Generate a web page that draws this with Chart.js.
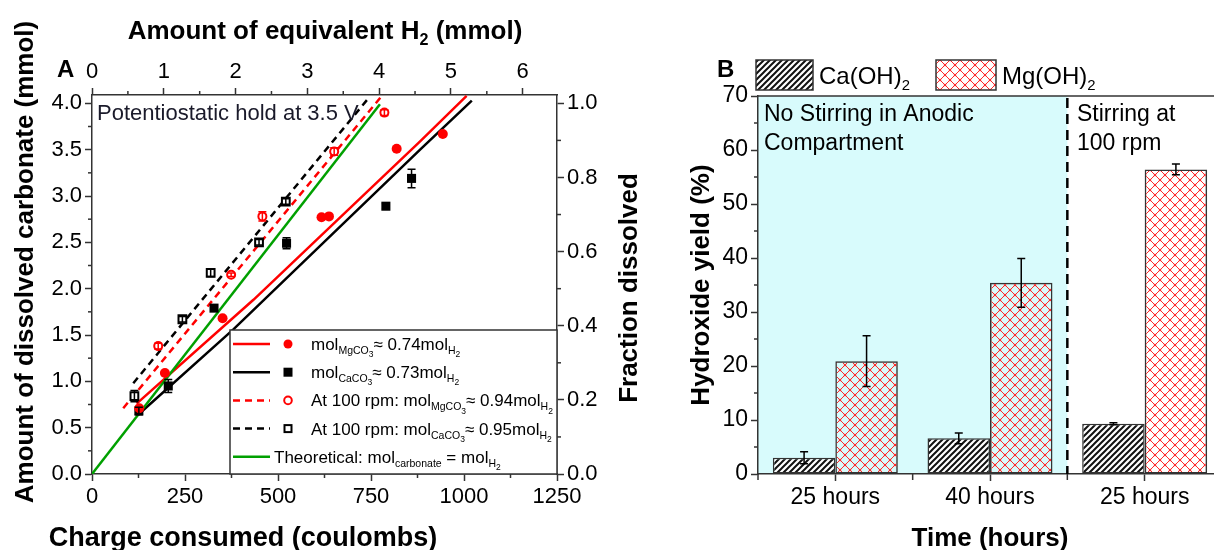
<!DOCTYPE html>
<html>
<head>
<meta charset="utf-8">
<script src="https://cdn.jsdelivr.net/npm/chart.js@4.4.1/dist/chart.umd.min.js"></script>
<style>
  html, body { margin: 0; padding: 0; background: #fff; overflow: hidden; width: 1214px; height: 550px; }
  #wrapA { position: absolute; left: 0; top: 0; width: 650px; height: 550px; }
  #wrapB { position: absolute; left: 680px; top: 0; width: 560px; height: 550px; }
</style>
</head>
<body>
<div id="wrapA"><canvas id="chartA" width="650" height="550"></canvas></div>
<div id="wrapB"><canvas id="chartB" width="560" height="550"></canvas></div>
<script>
// ---- panel A: charge (C) vs dissolved carbonate (mmol)
const mgC = [127, 196, 351, 617, 637, 819, 943];
const mgN = [0.71, 1.09, 1.68, 2.77, 2.78, 3.51, 3.67];
const mgErr = [0, 0, 0, 0, 0, 0, 0];
const caC = [126, 205, 328, 523, 790, 859];
const caN = [0.68, 0.95, 1.79, 2.49, 2.89, 3.19];
const caErr = [0.04, 0.07, 0.03, 0.06, 0.03, 0.10];
const mgRpmC = [178, 374, 458, 651, 786];
const mgRpmN = [1.38, 2.15, 2.78, 3.48, 3.90];
const mgRpmErr = [0.03, 0.02, 0.05, 0.04, 0.03];
const caRpmC = [114, 243, 319, 449, 521];
const caRpmN = [0.84, 1.67, 2.17, 2.50, 2.94];
const caRpmErr = [0.06, 0.03, 0.04, 0.03, 0.03];

const mgFitC = [120, 434, 882, 1007];
const mgFitN = [0.76, 1.88, 3.59, 4.08];
const caFitC = [124, 380, 882, 1021];
const caFitN = [0.64, 1.56, 3.50, 4.03];
const mgRpmFitC = [84, 775];
const mgRpmFitN = [0.71, 4.06];
const caRpmFitC = [111, 740];
const caRpmFitN = [0.98, 4.04];
const theoC = [0, 774];
const theoN = [0, 3.99];

const chargeTicks = [0, 250, 500, 750, 1000, 1250];
const h2Ticks = [0, 1, 2, 3, 4, 5, 6];
const carbTicks = [0, 0.5, 1.0, 1.5, 2.0, 2.5, 3.0, 3.5, 4.0];
const fracTicks = [0, 0.2, 0.4, 0.6, 0.8, 1.0];
const coulombPerMmolH2 = 192.97;
const carbMax = 4.09;

// ---- panel B: hydroxide yield (%)
const timeLabels = ['25 hours', '40 hours', '25 hours'];
const caYield = [3.0, 6.6, 9.3];
const caYieldErr = [1.1, 1.0, 0.2];
const mgYield = [20.9, 35.4, 56.4];
const mgYieldErr = [4.7, 4.5, 1.0];
const yieldTicks = [0, 10, 20, 30, 40, 50, 60, 70];

const FONT = '"Liberation Sans", Arial, Helvetica, sans-serif';
Chart.defaults.font.family = FONT;
Chart.defaults.color = '#000';

const pts = (xs, ys) => xs.map((x, i) => ({x: x, y: ys[i]}));
const mids = arr => arr.slice(1).map((v, i) => (v + arr[i]) / 2);

// rich text with sub / sub-sub levels
const LV_SIZE = [1, 0.62, 0.5];
const LV_DROP = [0, 0.24, 0.42];
function setFont(ctx, size, lv, weight) {
    ctx.font = weight + ' ' + (size * LV_SIZE[lv]).toFixed(1) + 'px ' + FONT;
}
function richWidth(ctx, parts, size, weight) {
    let w = 0;
    parts.forEach(p => { setFont(ctx, size, p[1], weight); w += ctx.measureText(p[0]).width; });
    return w;
}
function drawRich(ctx, parts, x, y, size, weight, align) {
    let cx = align === 'center' ? x - richWidth(ctx, parts, size, weight) / 2 : x;
    ctx.textAlign = 'left';
    ctx.textBaseline = 'alphabetic';
    parts.forEach(p => {
        setFont(ctx, size, p[1], weight);
        ctx.fillText(p[0], cx, y + size * LV_DROP[p[1]]);
        cx += ctx.measureText(p[0]).width;
    });
}

function textsPlugin(items) {
    return {
        id: 'texts',
        afterDraw(chart) {
            const ctx = chart.ctx;
            items.forEach(it => {
                ctx.save();
                ctx.fillStyle = it.color || '#000';
                const x = typeof it.x === 'function' ? it.x(chart) : it.x;
                if (it.rotate) {
                    ctx.translate(x, it.y);
                    ctx.rotate(-Math.PI / 2);
                    drawRich(ctx, it.parts, 0, 0, it.size, it.weight, 'center');
                } else {
                    drawRich(ctx, it.parts, x, it.y, it.size, it.weight, it.align || 'left');
                }
                ctx.restore();
            });
        }
    };
}

function minorTicksPlugin(list) {
    return {
        id: 'minorTicks',
        afterDraw(chart) {
            const ctx = chart.ctx;
            ctx.save();
            ctx.strokeStyle = '#333';
            ctx.lineWidth = 1.5;
            list.forEach(m => {
                const s = chart.scales[m.scale];
                m.values.forEach(v => {
                    const p = s.getPixelForValue(v);
                    ctx.beginPath();
                    if (s.isHorizontal()) {
                        const y0 = s.position === 'top' ? s.bottom : s.top;
                        const d = s.position === 'top' ? -1 : 1;
                        ctx.moveTo(p, y0); ctx.lineTo(p, y0 + d * m.len);
                    } else {
                        const x0 = s.position === 'left' ? s.right : s.left;
                        const d = s.position === 'left' ? -1 : 1;
                        ctx.moveTo(x0, p); ctx.lineTo(x0 + d * m.len, p);
                    }
                    ctx.stroke();
                });
            });
            ctx.restore();
        }
    };
}

const errorBars = {
    id: 'errorBars',
    afterDatasetsDraw(chart) {
        const ctx = chart.ctx;
        chart.data.datasets.forEach((ds, i) => {
            if (!ds.errors) return;
            const meta = chart.getDatasetMeta(i);
            const ys = chart.scales[meta.yAxisID];
            ctx.save();
            ctx.strokeStyle = ds.errorColor || '#000';
            ctx.lineWidth = 1.5;
            meta.data.forEach((el, j) => {
                const e = ds.errors[j];
                if (!e) return;
                const v = meta.controller.getParsed(j).y;
                const t = ys.getPixelForValue(v + e), b = ys.getPixelForValue(v - e);
                const w = ds.capWidth || 4;
                ctx.beginPath();
                ctx.moveTo(el.x, t); ctx.lineTo(el.x, b);
                ctx.moveTo(el.x - w, t); ctx.lineTo(el.x + w, t);
                ctx.moveTo(el.x - w, b); ctx.lineTo(el.x + w, b);
                ctx.stroke();
            });
            ctx.restore();
        });
    }
};

function axisBase(fontSize, fmt) {
    return {
        border: {color: '#333', width: 1.5},
        grid: {drawOnChartArea: false, tickLength: 7, tickColor: '#333', tickWidth: 1.5},
        ticks: {font: {size: fontSize}, color: '#000', padding: 3, maxRotation: 0, autoSkip: false,
                callback: fmt || (function (v) { return String(v); })}
    };
}
const setTicks = arr => scale => { scale.ticks = arr.map(v => ({value: v})); };
const oneDecimal = v => Number(v).toFixed(1);

// ---------------- panel A
const RED = '#ff0000', GREEN = '#00a000';
const legendRows = [
    {color: RED, dash: [], marker: 'dot', text: [['mol', 0], ['MgCO', 1], ['3', 2], ['\u2248 0.74mol', 0], ['H', 1], ['2', 2]]},
    {color: '#000', dash: [], marker: 'square', text: [['mol', 0], ['CaCO', 1], ['3', 2], ['\u2248 0.73mol', 0], ['H', 1], ['2', 2]]},
    {color: RED, dash: [7, 5], marker: 'ring', text: [['At 100 rpm: mol', 0], ['MgCO', 1], ['3', 2], ['\u2248 0.94mol', 0], ['H', 1], ['2', 2]]},
    {color: '#000', dash: [7, 5], marker: 'box', text: [['At 100 rpm: mol', 0], ['CaCO', 1], ['3', 2], ['\u2248 0.95mol', 0], ['H', 1], ['2', 2]]},
    {color: GREEN, dash: [], marker: null, text: [['Theoretical: mol', 0], ['carbonate', 1], [' = mol', 0], ['H', 1], ['2', 2]]}
];

function drawMarker(ctx, kind, x, y, color) {
    ctx.fillStyle = color; ctx.strokeStyle = color; ctx.lineWidth = 2;
    if (kind === 'dot') { ctx.beginPath(); ctx.arc(x, y, 4.5, 0, Math.PI * 2); ctx.fill(); }
    if (kind === 'square') { ctx.fillRect(x - 4.5, y - 4.5, 9, 9); }
    if (kind === 'ring') { ctx.beginPath(); ctx.arc(x, y, 3.8, 0, Math.PI * 2); ctx.stroke(); }
    if (kind === 'box') { ctx.strokeRect(x - 3.5, y - 3.5, 7, 7); }
}

const legendA = {
    id: 'legendA',
    afterDatasetsDraw(chart) {
        const ctx = chart.ctx, a = chart.chartArea;
        const bx = 230, by = 330;
        ctx.save();
        ctx.fillStyle = '#fff';
        ctx.fillRect(bx, by, a.right - bx, a.bottom - by);
        ctx.strokeStyle = '#333'; ctx.lineWidth = 1.5;
        ctx.strokeRect(bx, by, a.right - bx, a.bottom - by);
        legendRows.forEach((r, i) => {
            const y = 344 + i * 28.2;
            ctx.strokeStyle = r.color; ctx.lineWidth = 2.5; ctx.setLineDash(r.dash);
            ctx.beginPath(); ctx.moveTo(233, y); ctx.lineTo(270, y); ctx.stroke();
            ctx.setLineDash([]);
            if (r.marker) drawMarker(ctx, r.marker, 288, y, r.color);
            ctx.fillStyle = '#000';
            drawRich(ctx, r.text, r.marker ? 311 : 274, y + 6, 17, 'normal', 'left');
        });
        ctx.restore();
    }
};

const lineDs = (xs, ys, color, dash) => ({
    type: 'scatter', data: pts(xs, ys), showLine: true, borderColor: color, borderWidth: 2.5,
    borderDash: dash, pointRadius: 0, fill: false, tension: 0
});

const xA = axisBase(22), x2A = axisBase(22), yA = axisBase(22, oneDecimal), y2A = axisBase(22, oneDecimal);

new Chart(document.getElementById('chartA'), {
    type: 'scatter',
    data: {
        datasets: [
            {data: pts(mgRpmC, mgRpmN), errors: mgRpmErr, errorColor: RED, pointStyle: 'circle', pointRadius: 4,
             backgroundColor: '#fff', borderColor: RED, borderWidth: 2},
            {data: pts(caRpmC, caRpmN), errors: caRpmErr, errorColor: '#000', pointStyle: 'rect', pointRadius: 5.5,
             backgroundColor: '#fff', borderColor: '#000', borderWidth: 2},
            {data: pts(mgC, mgN), errors: mgErr, errorColor: RED, pointStyle: 'circle', pointRadius: 5,
             backgroundColor: RED, borderColor: RED, borderWidth: 0},
            {data: pts(caC, caN), errors: caErr, errorColor: '#000', pointStyle: 'rect', pointRadius: 6.4,
             backgroundColor: '#000', borderColor: '#000', borderWidth: 0},
            lineDs(theoC, theoN, GREEN, []),
            lineDs(caRpmFitC, caRpmFitN, '#000', [7, 5]),
            lineDs(mgRpmFitC, mgRpmFitN, RED, [7, 5]),
            lineDs(caFitC, caFitN, '#000', []),
            lineDs(mgFitC, mgFitN, RED, [])
        ]
    },
    options: {
        responsive: false, animation: false, devicePixelRatio: 1,
        layout: {padding: 0},
        plugins: {legend: {display: false}, tooltip: {enabled: false}},
        scales: {
            x: Object.assign(xA, {type: 'linear', position: 'bottom', min: 0, max: 1250,
                afterBuildTicks: setTicks(chargeTicks), afterFit: s => { s.height = 76; }}),
            x2: Object.assign(x2A, {type: 'linear', position: 'top', min: 0, max: 1250 / coulombPerMmolH2,
                afterBuildTicks: setTicks(h2Ticks), afterFit: s => { s.height = 95; }}),
            y: Object.assign(yA, {type: 'linear', position: 'left', min: 0, max: carbMax,
                afterBuildTicks: setTicks(carbTicks), afterFit: s => { s.width = 92; }}),
            y2: Object.assign(y2A, {type: 'linear', position: 'right', min: 0, max: carbMax / 4,
                afterBuildTicks: setTicks(fracTicks), afterFit: s => { s.width = 93; }})
        }
    },
    plugins: [
        errorBars, legendA,
        minorTicksPlugin([
            {scale: 'x', values: mids(chargeTicks), len: 4},
            {scale: 'x2', values: mids(h2Ticks), len: 4},
            {scale: 'y', values: mids(carbTicks), len: 4},
            {scale: 'y2', values: mids(fracTicks), len: 4}
        ]),
        textsPlugin([
            {parts: [['A', 0]], x: 57, y: 77, size: 24, weight: 'bold'},
            {parts: [['Amount of equivalent H', 0], ['2', 1], [' (mmol)', 0]], x: 325, y: 39, size: 26, weight: 'bold', align: 'center'},
            {parts: [['Charge consumed (coulombs)', 0]], x: 243, y: 546, size: 27, weight: 'bold', align: 'center'},
            {parts: [['Amount of dissolved carbonate (mmol)', 0]], x: 33, y: 262, size: 26, weight: 'bold', rotate: true},
            {parts: [['Fraction dissolved', 0]], x: 637, y: 288, size: 26, weight: 'bold', rotate: true},
            {parts: [['Potentiostatic hold at 3.5 V', 0]], x: 97, y: 120, size: 22, weight: 'normal', color: '#1a1a2a'}
        ])
    ]
});

// ---------------- panel B
function hatch(size, color, width, cross, bg, dots) {
    const c = document.createElement('canvas');
    c.width = c.height = size;
    const g = c.getContext('2d');
    if (bg) { g.fillStyle = bg; g.fillRect(0, 0, size, size); }
    g.strokeStyle = color; g.lineWidth = width; g.lineCap = 'square';
    const seg = (a, b, c2, d) => { g.beginPath(); g.moveTo(a, b); g.lineTo(c2, d); g.stroke(); };
    seg(0, size, size, 0); seg(-2, 2, 2, -2); seg(size - 2, size + 2, size + 2, size - 2);
    if (cross) { seg(0, 0, size, size); seg(size - 2, -2, size + 2, 2); seg(-2, size - 2, 2, size + 2); }
    if (dots) {
        g.fillStyle = color;
        [[size / 2, size / 2], [0, 0], [size, 0], [0, size], [size, size]].forEach(p => {
            g.beginPath(); g.arc(p[0], p[1], 1.3, 0, Math.PI * 2); g.fill();
        });
    }
    return document.createElement('canvas').getContext('2d').createPattern(c, 'repeat');
}
const caPattern = hatch(6, '#111', 2.0, false, '#fff', false);
const mgPattern = hatch(10, '#ff2a2a', 1, true, null, true);

const bgB = {
    id: 'bgB',
    beforeDraw(chart) {
        const ctx = chart.ctx, a = chart.chartArea, x = chart.scales.x;
        const mid = (x.getPixelForValue(1) + x.getPixelForValue(2)) / 2;
        ctx.save();
        ctx.fillStyle = '#d8fbfc';
        ctx.fillRect(a.left, a.top, mid - a.left, a.bottom - a.top);
        ctx.restore();
    },
    afterDatasetsDraw(chart) {
        const ctx = chart.ctx, a = chart.chartArea, x = chart.scales.x;
        const mid = (x.getPixelForValue(1) + x.getPixelForValue(2)) / 2;
        ctx.save();
        ctx.strokeStyle = '#000'; ctx.lineWidth = 2.5; ctx.setLineDash([10, 6]);
        ctx.beginPath(); ctx.moveTo(mid, a.top + 2); ctx.lineTo(mid, a.bottom); ctx.stroke();
        ctx.setLineDash([]);
        ctx.strokeStyle = '#333'; ctx.lineWidth = 1.5;
        ctx.beginPath(); ctx.moveTo(a.left, a.top); ctx.lineTo(a.right + 20, a.top); ctx.stroke();
        ctx.restore();
    }
};

const legendB = {
    id: 'legendB',
    afterDraw(chart) {
        const ctx = chart.ctx;
        const boxes = [{x: 76, w: 57}, {x: 256, w: 60}];
        const names = [[['Ca(OH)', 0], ['2', 1]], [['Mg(OH)', 0], ['2', 1]]];
        ctx.save();
        chart.data.datasets.forEach((ds, i) => {
            const b = boxes[i];
            ctx.fillStyle = ds.backgroundColor;
            ctx.fillRect(b.x, 60, b.w, 30);
            ctx.strokeStyle = '#333'; ctx.lineWidth = 1.5;
            ctx.strokeRect(b.x, 60, b.w, 30);
            ctx.fillStyle = '#000';
            drawRich(ctx, names[i], b.x + b.w + 6, 84, 24, 'normal', 'left');
        });
        ctx.restore();
    }
};

const xB = axisBase(23), yB = axisBase(23);
xB.grid.offset = false;

new Chart(document.getElementById('chartB'), {
    type: 'bar',
    data: {
        labels: timeLabels,
        datasets: [
            {label: 'Ca(OH)2', data: caYield, errors: caYieldErr, capWidth: 4, backgroundColor: caPattern,
             borderColor: '#333', borderWidth: 1.5, borderSkipped: false, categoryPercentage: 0.808, barPercentage: 1},
            {label: 'Mg(OH)2', data: mgYield, errors: mgYieldErr, capWidth: 4, backgroundColor: mgPattern,
             borderColor: '#333', borderWidth: 1.5, borderSkipped: false, categoryPercentage: 0.808, barPercentage: 1}
        ]
    },
    options: {
        responsive: false, animation: false, devicePixelRatio: 1,
        layout: {padding: {top: 96, right: 18, left: 0, bottom: 0}},
        plugins: {legend: {display: false}, tooltip: {enabled: false}},
        scales: {
            x: Object.assign(xB, {type: 'category', position: 'bottom', offset: true,
                ticks: Object.assign(xB.ticks, {callback: function (v) { return this.getLabelForValue(v); }}),
                afterFit: s => { s.height = 76; }}),
            y: Object.assign(yB, {type: 'linear', position: 'left', min: 0, max: 70,
                afterBuildTicks: setTicks(yieldTicks), afterFit: s => { s.width = 78; }})
        }
    },
    plugins: [
        bgB, errorBars, legendB,
        minorTicksPlugin([
            {scale: 'y', values: mids(yieldTicks), len: 4},
            {scale: 'x', values: [-0.5, 0.5, 1.5, 2.5], len: 6}
        ]),
        textsPlugin([
            {parts: [['B', 0]], x: 37, y: 77, size: 24, weight: 'bold'},
            {parts: [['Hydroxide yield (%)', 0]], x: 29, y: 285, size: 26, weight: 'bold', rotate: true},
            {parts: [['Time (hours)', 0]], x: c => (c.chartArea.left + c.chartArea.right) / 2, y: 546, size: 26, weight: 'bold', align: 'center'},
            {parts: [['No Stirring in Anodic', 0]], x: 84, y: 121, size: 23, weight: 'normal'},
            {parts: [['Compartment', 0]], x: 84, y: 150, size: 23, weight: 'normal'},
            {parts: [['Stirring at', 0]], x: 397, y: 121, size: 23, weight: 'normal'},
            {parts: [['100 rpm', 0]], x: 397, y: 150, size: 23, weight: 'normal'}
        ])
    ]
});
</script>
</body>
</html>
